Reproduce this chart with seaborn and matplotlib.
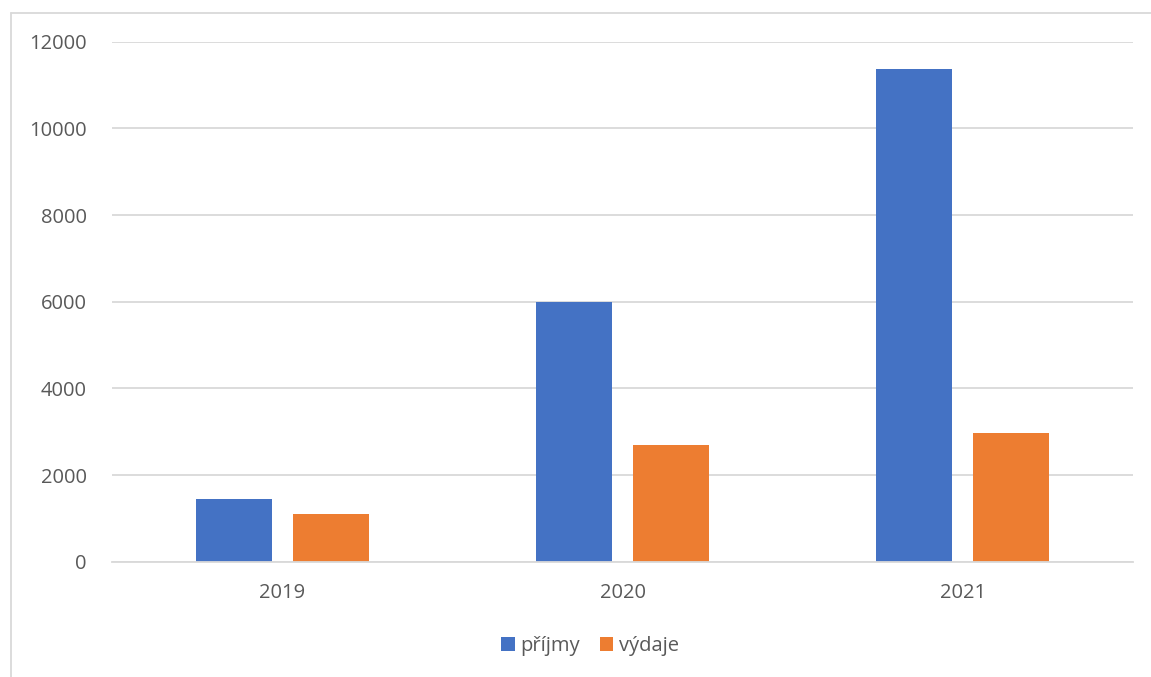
import matplotlib
matplotlib.use("Agg")
import matplotlib.pyplot as plt
import seaborn as sns
import pandas as pd
from matplotlib.lines import Line2D
from matplotlib.patches import Patch

years = ["2019", "2020", "2021"]
prijmy = [1440, 5990, 11380]
vydaje = [1090, 2690, 2970]
series_names = ["příjmy", "výdaje"]
colors = ["#4472C4", "#ED7D31"]
yticks = [0, 2000, 4000, 6000, 8000, 10000, 12000]

df = pd.DataFrame({
    "rok": years * 2,
    "hodnota": prijmy + vydaje,
    "serie": [series_names[0]] * 3 + [series_names[1]] * 3,
})

sns.set_theme(style="white")
plt.rcParams["font.family"] = ["Open Sans", "DejaVu Sans"]

fig = plt.figure(figsize=(11.51, 6.77), dpi=100)
ax = fig.add_axes([0.0973, 0.1703, 0.9844 - 0.0973, 0.9384 - 0.1703])

sns.barplot(data=df, x="rok", y="hodnota", hue="serie", palette=colors,
            width=0.5706, gap=0.2166, ax=ax, legend=False, saturation=1,
            edgecolor="none")

ax.set_ylim(0, 12000)
ax.set_xlim(-0.5, 2.5)
ax.set_yticks(yticks)
ax.set_yticklabels([str(v) for v in yticks])
ax.yaxis.grid(True, color="#d9d9d9", linewidth=1.3)
ax.set_axisbelow(True)
for s in ["top", "right", "left"]:
    ax.spines[s].set_visible(False)
ax.spines["bottom"].set_color("#d9d9d9")
ax.spines["bottom"].set_linewidth(1.3)
ax.set_xlabel("")
ax.set_ylabel("")
ax.tick_params(axis="both", length=0, labelsize=14.5, labelcolor="#595959")
ax.tick_params(axis="x", pad=15)
ax.tick_params(axis="y", pad=18)

handles = [Patch(facecolor=c, edgecolor="none") for c in colors]
leg = fig.legend(handles, series_names, loc="center", bbox_to_anchor=(0.513, 1 - 646 / 677),
                 ncol=2, frameon=False, fontsize=14.5, handlelength=0.65, handleheight=0.65,
                 handletextpad=0.3, columnspacing=1.0)
for t in leg.get_texts():
    t.set_color("#595959")

# chart-area frame (only top and left edges visible in the reference)
fig.add_artist(Line2D([11 / 1151, 1.0], [1 - 12.5 / 677] * 2, transform=fig.transFigure,
                      color="#d9d9d9", linewidth=1.3))
fig.add_artist(Line2D([11 / 1151] * 2, [0.0, 1 - 12.5 / 677], transform=fig.transFigure,
                      color="#d9d9d9", linewidth=1.3))

fig.savefig("out.png", dpi=100, facecolor="white")
